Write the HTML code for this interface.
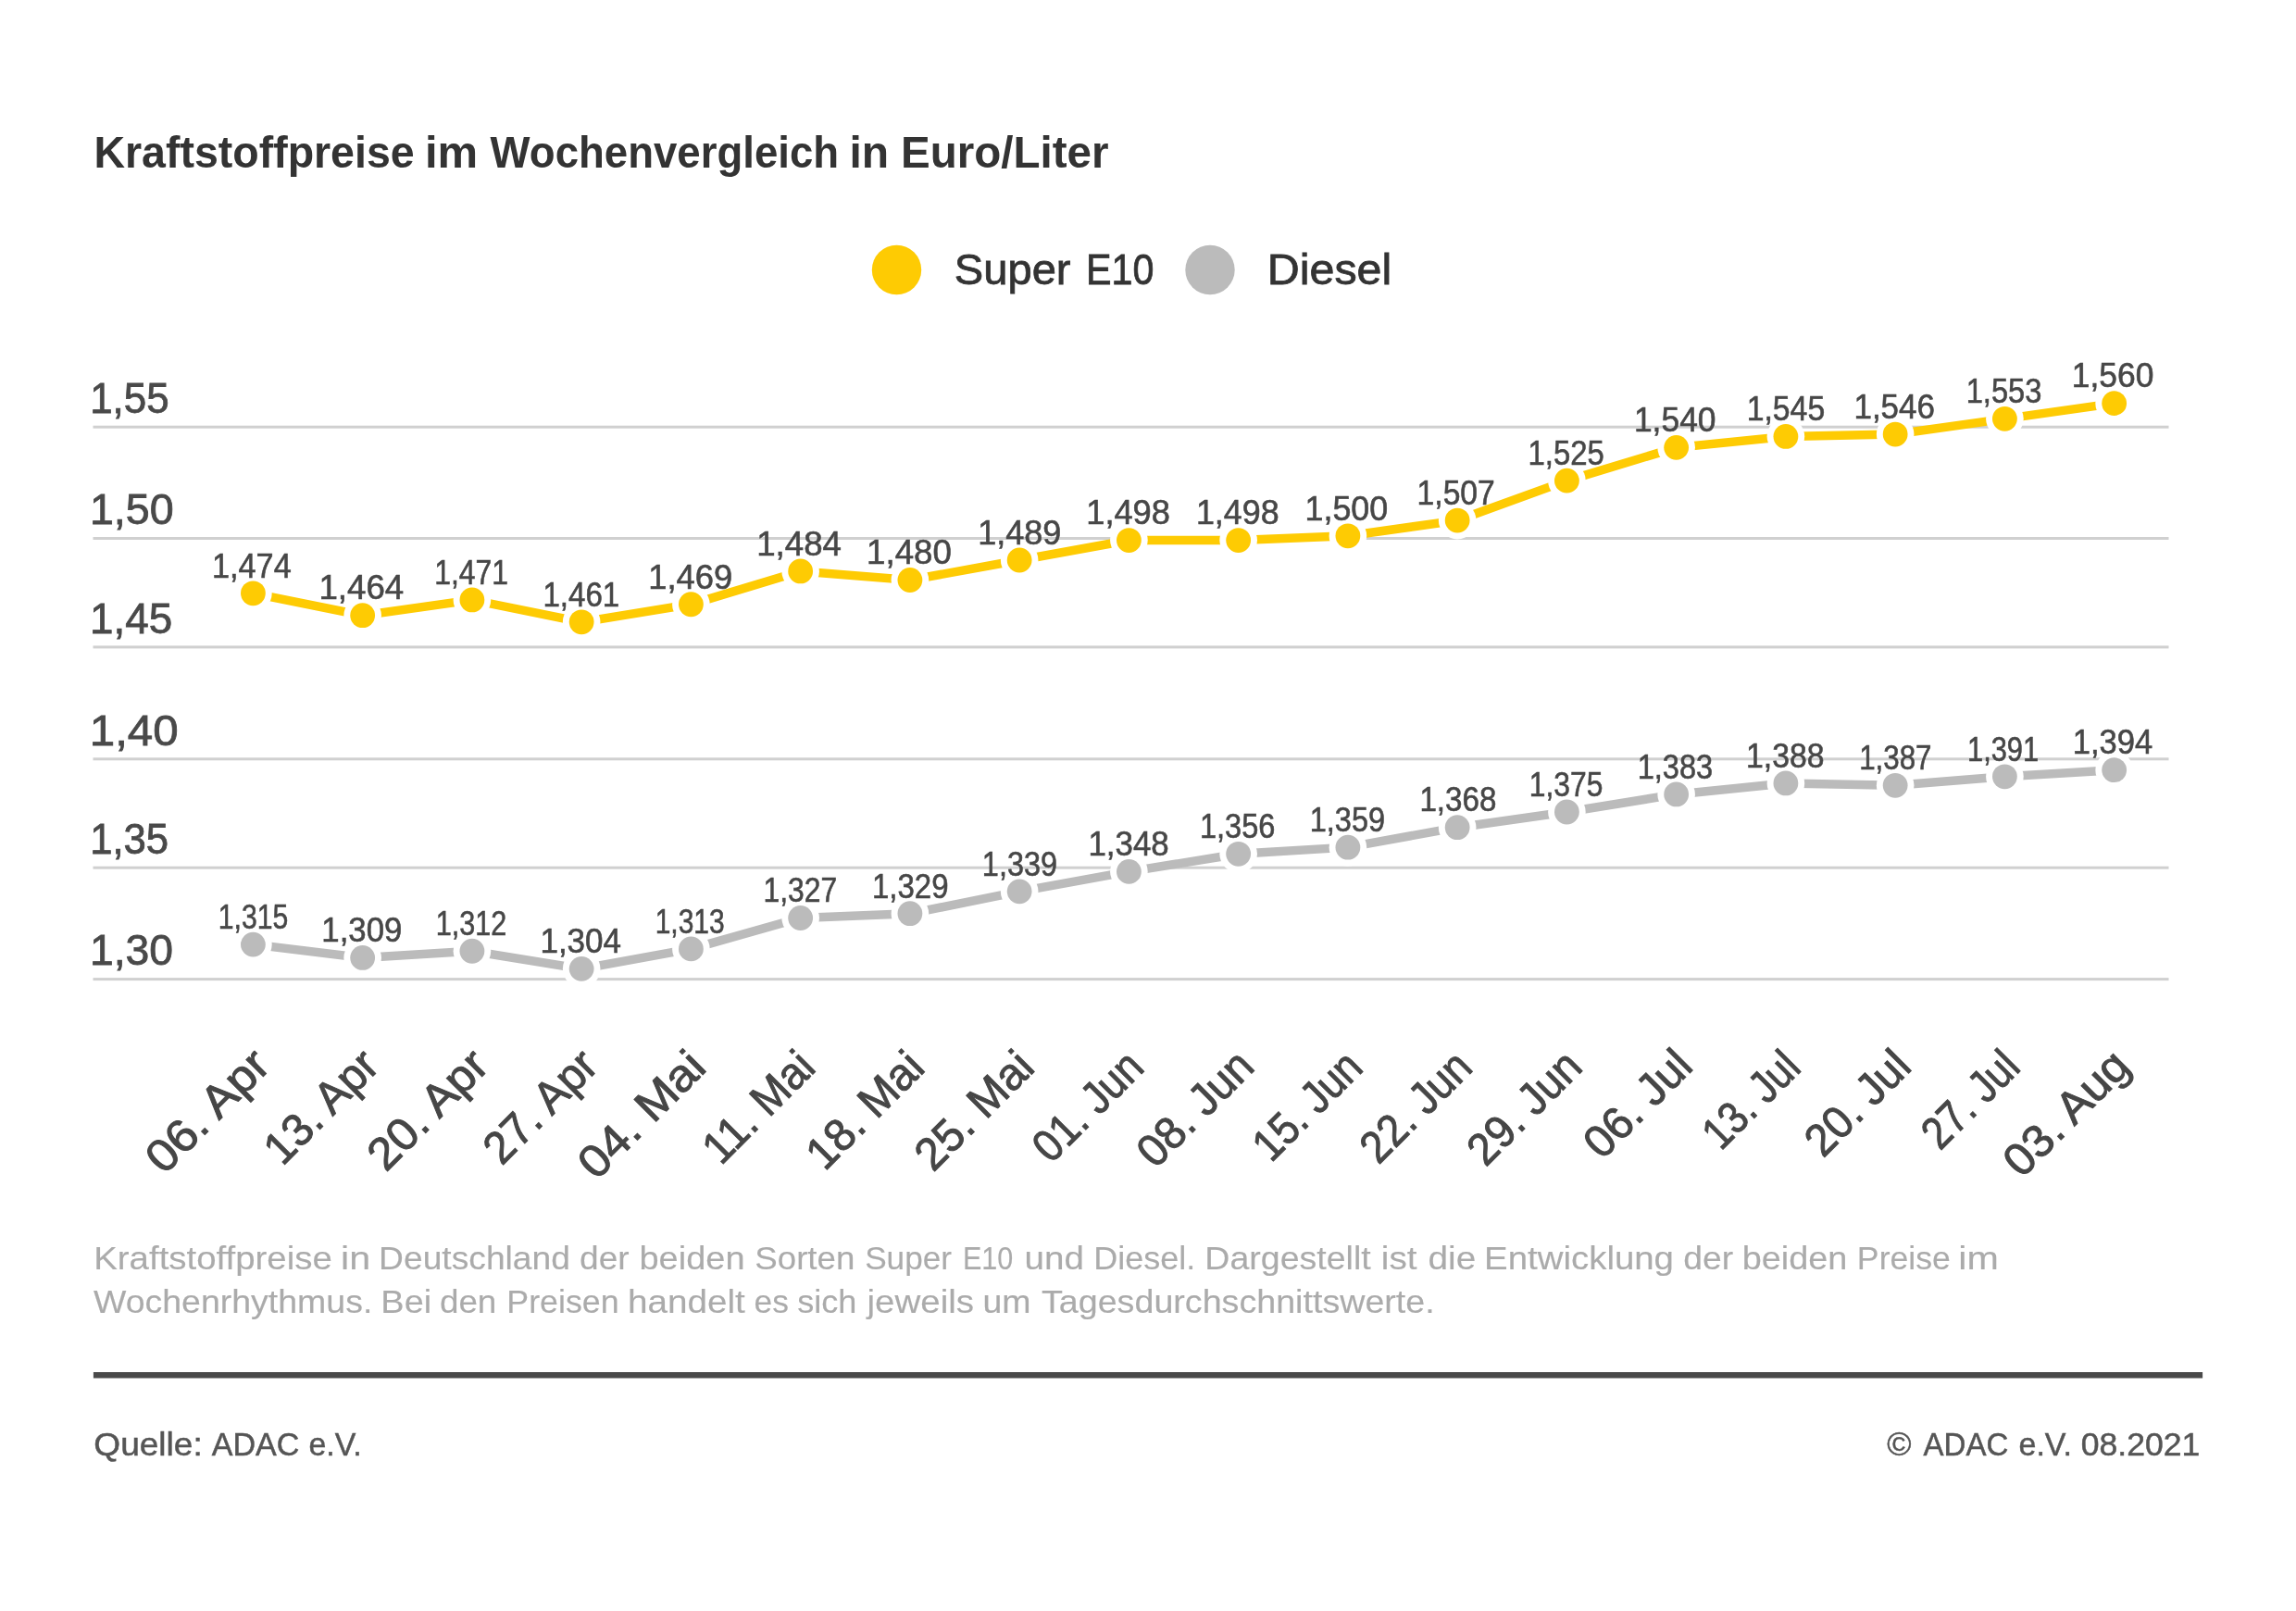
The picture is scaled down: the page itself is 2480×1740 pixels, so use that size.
<!DOCTYPE html><html><head><meta charset="utf-8"><style>html,body{margin:0;padding:0;background:#fff;overflow:hidden;}svg{display:block;will-change:transform;}text{font-family:"Liberation Sans",sans-serif;}</style></head><body>
<svg width="2480" height="1740" viewBox="0 0 2480 1740">
<rect width="2480" height="1740" fill="#fff"/>
<circle cx="968.5" cy="291.5" r="26.7" fill="#FECB03"/>
<circle cx="1307" cy="291.5" r="26.7" fill="#BBBBBB"/>
<rect x="100.5" y="459.70" width="2242" height="3" fill="#d0d0d0"/>
<rect x="100.5" y="580.00" width="2242" height="3" fill="#d0d0d0"/>
<rect x="100.5" y="697.40" width="2242" height="3" fill="#d0d0d0"/>
<rect x="100.5" y="818.30" width="2242" height="3" fill="#d0d0d0"/>
<rect x="100.5" y="935.70" width="2242" height="3" fill="#d0d0d0"/>
<rect x="100.5" y="1056.10" width="2242" height="3" fill="#d0d0d0"/>
<text x="97.16" y="445.50" font-size="45.5" fill="#494949" stroke="#494949" stroke-width="0.8" textLength="85.47" lengthAdjust="spacingAndGlyphs">1,55</text>
<text x="96.94" y="565.80" font-size="45.5" fill="#494949" stroke="#494949" stroke-width="0.8" textLength="90.73" lengthAdjust="spacingAndGlyphs">1,50</text>
<text x="97.01" y="683.50" font-size="45.5" fill="#494949" stroke="#494949" stroke-width="0.8" textLength="89.11" lengthAdjust="spacingAndGlyphs">1,45</text>
<text x="96.75" y="804.50" font-size="45.5" fill="#494949" stroke="#494949" stroke-width="0.8" textLength="95.94" lengthAdjust="spacingAndGlyphs">1,40</text>
<text x="97.19" y="921.80" font-size="45.5" fill="#494949" stroke="#494949" stroke-width="0.8" textLength="84.90" lengthAdjust="spacingAndGlyphs">1,35</text>
<text x="96.98" y="1041.50" font-size="45.5" fill="#494949" stroke="#494949" stroke-width="0.8" textLength="90.04" lengthAdjust="spacingAndGlyphs">1,30</text>
<polyline points="273.40,640.81 391.65,664.66 509.90,647.96 628.15,671.82 746.40,652.73 864.65,616.95 982.90,626.49 1101.15,605.02 1219.40,583.55 1337.65,583.55 1455.90,578.78 1574.15,562.08 1692.40,519.14 1810.65,483.36 1928.90,471.43 2047.15,469.04 2165.40,452.34 2283.65,435.64" fill="none" stroke="#FECB03" stroke-width="9.5" stroke-linejoin="miter"/>
<circle cx="273.40" cy="640.81" r="20.3" fill="#fff"/>
<circle cx="273.40" cy="640.81" r="13.4" fill="#FECB03"/>
<circle cx="391.65" cy="664.66" r="20.3" fill="#fff"/>
<circle cx="391.65" cy="664.66" r="13.4" fill="#FECB03"/>
<circle cx="509.90" cy="647.96" r="20.3" fill="#fff"/>
<circle cx="509.90" cy="647.96" r="13.4" fill="#FECB03"/>
<circle cx="628.15" cy="671.82" r="20.3" fill="#fff"/>
<circle cx="628.15" cy="671.82" r="13.4" fill="#FECB03"/>
<circle cx="746.40" cy="652.73" r="20.3" fill="#fff"/>
<circle cx="746.40" cy="652.73" r="13.4" fill="#FECB03"/>
<circle cx="864.65" cy="616.95" r="20.3" fill="#fff"/>
<circle cx="864.65" cy="616.95" r="13.4" fill="#FECB03"/>
<circle cx="982.90" cy="626.49" r="20.3" fill="#fff"/>
<circle cx="982.90" cy="626.49" r="13.4" fill="#FECB03"/>
<circle cx="1101.15" cy="605.02" r="20.3" fill="#fff"/>
<circle cx="1101.15" cy="605.02" r="13.4" fill="#FECB03"/>
<circle cx="1219.40" cy="583.55" r="20.3" fill="#fff"/>
<circle cx="1219.40" cy="583.55" r="13.4" fill="#FECB03"/>
<circle cx="1337.65" cy="583.55" r="20.3" fill="#fff"/>
<circle cx="1337.65" cy="583.55" r="13.4" fill="#FECB03"/>
<circle cx="1455.90" cy="578.78" r="20.3" fill="#fff"/>
<circle cx="1455.90" cy="578.78" r="13.4" fill="#FECB03"/>
<circle cx="1574.15" cy="562.08" r="20.3" fill="#fff"/>
<circle cx="1574.15" cy="562.08" r="13.4" fill="#FECB03"/>
<circle cx="1692.40" cy="519.14" r="20.3" fill="#fff"/>
<circle cx="1692.40" cy="519.14" r="13.4" fill="#FECB03"/>
<circle cx="1810.65" cy="483.36" r="20.3" fill="#fff"/>
<circle cx="1810.65" cy="483.36" r="13.4" fill="#FECB03"/>
<circle cx="1928.90" cy="471.43" r="20.3" fill="#fff"/>
<circle cx="1928.90" cy="471.43" r="13.4" fill="#FECB03"/>
<circle cx="2047.15" cy="469.04" r="20.3" fill="#fff"/>
<circle cx="2047.15" cy="469.04" r="13.4" fill="#FECB03"/>
<circle cx="2165.40" cy="452.34" r="20.3" fill="#fff"/>
<circle cx="2165.40" cy="452.34" r="13.4" fill="#FECB03"/>
<circle cx="2283.65" cy="435.64" r="20.3" fill="#fff"/>
<circle cx="2283.65" cy="435.64" r="13.4" fill="#FECB03"/>
<text x="271.83" y="623.61" font-size="36.3" fill="#474747" stroke="#474747" stroke-width="0.6" text-anchor="middle" textLength="85.74" lengthAdjust="spacingAndGlyphs">1,474</text>
<text x="390.32" y="647.46" font-size="36.3" fill="#474747" stroke="#474747" stroke-width="0.6" text-anchor="middle" textLength="91.74" lengthAdjust="spacingAndGlyphs">1,464</text>
<text x="509.11" y="630.76" font-size="36.3" fill="#474747" stroke="#474747" stroke-width="0.6" text-anchor="middle" textLength="79.83" lengthAdjust="spacingAndGlyphs">1,471</text>
<text x="627.80" y="654.62" font-size="36.3" fill="#474747" stroke="#474747" stroke-width="0.6" text-anchor="middle" textLength="82.77" lengthAdjust="spacingAndGlyphs">1,461</text>
<text x="745.69" y="635.53" font-size="36.3" fill="#474747" stroke="#474747" stroke-width="0.6" text-anchor="middle" textLength="90.95" lengthAdjust="spacingAndGlyphs">1,469</text>
<text x="863.12" y="599.75" font-size="36.3" fill="#474747" stroke="#474747" stroke-width="0.6" text-anchor="middle" textLength="91.75" lengthAdjust="spacingAndGlyphs">1,484</text>
<text x="981.97" y="609.29" font-size="36.3" fill="#474747" stroke="#474747" stroke-width="0.6" text-anchor="middle" textLength="91.76" lengthAdjust="spacingAndGlyphs">1,480</text>
<text x="1101.22" y="587.82" font-size="36.3" fill="#474747" stroke="#474747" stroke-width="0.6" text-anchor="middle" textLength="90.14" lengthAdjust="spacingAndGlyphs">1,489</text>
<text x="1218.59" y="566.35" font-size="36.3" fill="#474747" stroke="#474747" stroke-width="0.6" text-anchor="middle" textLength="90.74" lengthAdjust="spacingAndGlyphs">1,498</text>
<text x="1336.75" y="566.35" font-size="36.3" fill="#474747" stroke="#474747" stroke-width="0.6" text-anchor="middle" textLength="89.72" lengthAdjust="spacingAndGlyphs">1,498</text>
<text x="1454.39" y="561.58" font-size="36.3" fill="#474747" stroke="#474747" stroke-width="0.6" text-anchor="middle" textLength="89.72" lengthAdjust="spacingAndGlyphs">1,500</text>
<text x="1572.69" y="544.88" font-size="36.3" fill="#474747" stroke="#474747" stroke-width="0.6" text-anchor="middle" textLength="84.24" lengthAdjust="spacingAndGlyphs">1,507</text>
<text x="1691.65" y="501.94" font-size="36.3" fill="#474747" stroke="#474747" stroke-width="0.6" text-anchor="middle" textLength="82.34" lengthAdjust="spacingAndGlyphs">1,525</text>
<text x="1809.25" y="466.16" font-size="36.3" fill="#474747" stroke="#474747" stroke-width="0.6" text-anchor="middle" textLength="88.67" lengthAdjust="spacingAndGlyphs">1,540</text>
<text x="1928.93" y="454.23" font-size="36.3" fill="#474747" stroke="#474747" stroke-width="0.6" text-anchor="middle" textLength="84.52" lengthAdjust="spacingAndGlyphs">1,545</text>
<text x="2046.16" y="451.84" font-size="36.3" fill="#474747" stroke="#474747" stroke-width="0.6" text-anchor="middle" textLength="87.41" lengthAdjust="spacingAndGlyphs">1,546</text>
<text x="2164.53" y="435.14" font-size="36.3" fill="#474747" stroke="#474747" stroke-width="0.6" text-anchor="middle" textLength="81.72" lengthAdjust="spacingAndGlyphs">1,553</text>
<text x="2282.05" y="418.44" font-size="36.3" fill="#474747" stroke="#474747" stroke-width="0.6" text-anchor="middle" textLength="88.64" lengthAdjust="spacingAndGlyphs">1,560</text>
<polyline points="273.40,1020.12 391.65,1034.43 509.90,1027.27 628.15,1046.36 746.40,1024.89 864.65,991.49 982.90,986.72 1101.15,962.86 1219.40,941.39 1337.65,922.31 1455.90,915.15 1574.15,893.68 1692.40,876.98 1810.65,857.90 1928.90,845.97 2047.15,848.35 2165.40,838.81 2283.65,831.65" fill="none" stroke="#BBBBBB" stroke-width="9.5" stroke-linejoin="miter"/>
<circle cx="273.40" cy="1020.12" r="20.3" fill="#fff"/>
<circle cx="273.40" cy="1020.12" r="13.4" fill="#BBBBBB"/>
<circle cx="391.65" cy="1034.43" r="20.3" fill="#fff"/>
<circle cx="391.65" cy="1034.43" r="13.4" fill="#BBBBBB"/>
<circle cx="509.90" cy="1027.27" r="20.3" fill="#fff"/>
<circle cx="509.90" cy="1027.27" r="13.4" fill="#BBBBBB"/>
<circle cx="628.15" cy="1046.36" r="20.3" fill="#fff"/>
<circle cx="628.15" cy="1046.36" r="13.4" fill="#BBBBBB"/>
<circle cx="746.40" cy="1024.89" r="20.3" fill="#fff"/>
<circle cx="746.40" cy="1024.89" r="13.4" fill="#BBBBBB"/>
<circle cx="864.65" cy="991.49" r="20.3" fill="#fff"/>
<circle cx="864.65" cy="991.49" r="13.4" fill="#BBBBBB"/>
<circle cx="982.90" cy="986.72" r="20.3" fill="#fff"/>
<circle cx="982.90" cy="986.72" r="13.4" fill="#BBBBBB"/>
<circle cx="1101.15" cy="962.86" r="20.3" fill="#fff"/>
<circle cx="1101.15" cy="962.86" r="13.4" fill="#BBBBBB"/>
<circle cx="1219.40" cy="941.39" r="20.3" fill="#fff"/>
<circle cx="1219.40" cy="941.39" r="13.4" fill="#BBBBBB"/>
<circle cx="1337.65" cy="922.31" r="20.3" fill="#fff"/>
<circle cx="1337.65" cy="922.31" r="13.4" fill="#BBBBBB"/>
<circle cx="1455.90" cy="915.15" r="20.3" fill="#fff"/>
<circle cx="1455.90" cy="915.15" r="13.4" fill="#BBBBBB"/>
<circle cx="1574.15" cy="893.68" r="20.3" fill="#fff"/>
<circle cx="1574.15" cy="893.68" r="13.4" fill="#BBBBBB"/>
<circle cx="1692.40" cy="876.98" r="20.3" fill="#fff"/>
<circle cx="1692.40" cy="876.98" r="13.4" fill="#BBBBBB"/>
<circle cx="1810.65" cy="857.90" r="20.3" fill="#fff"/>
<circle cx="1810.65" cy="857.90" r="13.4" fill="#BBBBBB"/>
<circle cx="1928.90" cy="845.97" r="20.3" fill="#fff"/>
<circle cx="1928.90" cy="845.97" r="13.4" fill="#BBBBBB"/>
<circle cx="2047.15" cy="848.35" r="20.3" fill="#fff"/>
<circle cx="2047.15" cy="848.35" r="13.4" fill="#BBBBBB"/>
<circle cx="2165.40" cy="838.81" r="20.3" fill="#fff"/>
<circle cx="2165.40" cy="838.81" r="13.4" fill="#BBBBBB"/>
<circle cx="2283.65" cy="831.65" r="20.3" fill="#fff"/>
<circle cx="2283.65" cy="831.65" r="13.4" fill="#BBBBBB"/>
<text x="273.58" y="1002.92" font-size="36.3" fill="#474747" stroke="#474747" stroke-width="0.6" text-anchor="middle" textLength="75.46" lengthAdjust="spacingAndGlyphs">1,315</text>
<text x="390.85" y="1017.23" font-size="36.3" fill="#474747" stroke="#474747" stroke-width="0.6" text-anchor="middle" textLength="86.96" lengthAdjust="spacingAndGlyphs">1,309</text>
<text x="508.92" y="1010.07" font-size="36.3" fill="#474747" stroke="#474747" stroke-width="0.6" text-anchor="middle" textLength="76.48" lengthAdjust="spacingAndGlyphs">1,312</text>
<text x="627.25" y="1029.16" font-size="36.3" fill="#474747" stroke="#474747" stroke-width="0.6" text-anchor="middle" textLength="87.63" lengthAdjust="spacingAndGlyphs">1,304</text>
<text x="745.20" y="1007.69" font-size="36.3" fill="#474747" stroke="#474747" stroke-width="0.6" text-anchor="middle" textLength="74.99" lengthAdjust="spacingAndGlyphs">1,313</text>
<text x="864.38" y="974.29" font-size="36.3" fill="#474747" stroke="#474747" stroke-width="0.6" text-anchor="middle" textLength="79.63" lengthAdjust="spacingAndGlyphs">1,327</text>
<text x="983.22" y="969.52" font-size="36.3" fill="#474747" stroke="#474747" stroke-width="0.6" text-anchor="middle" textLength="82.59" lengthAdjust="spacingAndGlyphs">1,329</text>
<text x="1101.42" y="945.66" font-size="36.3" fill="#474747" stroke="#474747" stroke-width="0.6" text-anchor="middle" textLength="81.10" lengthAdjust="spacingAndGlyphs">1,339</text>
<text x="1219.10" y="924.19" font-size="36.3" fill="#474747" stroke="#474747" stroke-width="0.6" text-anchor="middle" textLength="87.17" lengthAdjust="spacingAndGlyphs">1,348</text>
<text x="1336.68" y="905.11" font-size="36.3" fill="#474747" stroke="#474747" stroke-width="0.6" text-anchor="middle" textLength="81.51" lengthAdjust="spacingAndGlyphs">1,356</text>
<text x="1455.41" y="897.95" font-size="36.3" fill="#474747" stroke="#474747" stroke-width="0.6" text-anchor="middle" textLength="81.30" lengthAdjust="spacingAndGlyphs">1,359</text>
<text x="1574.90" y="876.48" font-size="36.3" fill="#474747" stroke="#474747" stroke-width="0.6" text-anchor="middle" textLength="82.97" lengthAdjust="spacingAndGlyphs">1,368</text>
<text x="1691.56" y="859.78" font-size="36.3" fill="#474747" stroke="#474747" stroke-width="0.6" text-anchor="middle" textLength="79.62" lengthAdjust="spacingAndGlyphs">1,375</text>
<text x="1809.48" y="840.70" font-size="36.3" fill="#474747" stroke="#474747" stroke-width="0.6" text-anchor="middle" textLength="81.54" lengthAdjust="spacingAndGlyphs">1,383</text>
<text x="1928.33" y="828.77" font-size="36.3" fill="#474747" stroke="#474747" stroke-width="0.6" text-anchor="middle" textLength="84.49" lengthAdjust="spacingAndGlyphs">1,388</text>
<text x="2047.34" y="831.15" font-size="36.3" fill="#474747" stroke="#474747" stroke-width="0.6" text-anchor="middle" textLength="78.37" lengthAdjust="spacingAndGlyphs">1,387</text>
<text x="2163.57" y="821.61" font-size="36.3" fill="#474747" stroke="#474747" stroke-width="0.6" text-anchor="middle" textLength="77.09" lengthAdjust="spacingAndGlyphs">1,391</text>
<text x="2281.96" y="814.45" font-size="36.3" fill="#474747" stroke="#474747" stroke-width="0.6" text-anchor="middle" textLength="86.38" lengthAdjust="spacingAndGlyphs">1,394</text>
<text x="0" y="0" font-size="49" fill="#464646" stroke="#464646" stroke-width="1.0" text-anchor="end" textLength="165.13" lengthAdjust="spacingAndGlyphs" transform="translate(293.90,1153.10) rotate(-45)">06. Apr</text>
<text x="0" y="0" font-size="49" fill="#464646" stroke="#464646" stroke-width="1.0" text-anchor="end" textLength="150.74" lengthAdjust="spacingAndGlyphs" transform="translate(411.65,1153.60) rotate(-45)">13. Apr</text>
<text x="0" y="0" font-size="49" fill="#464646" stroke="#464646" stroke-width="1.0" text-anchor="end" textLength="160.49" lengthAdjust="spacingAndGlyphs" transform="translate(530.15,1153.35) rotate(-45)">20. Apr</text>
<text x="0" y="0" font-size="49" fill="#464646" stroke="#464646" stroke-width="1.0" text-anchor="end" textLength="150.09" lengthAdjust="spacingAndGlyphs" transform="translate(648.16,1153.59) rotate(-45)">27. Apr</text>
<text x="0" y="0" font-size="49" fill="#464646" stroke="#464646" stroke-width="1.0" text-anchor="end" textLength="170.82" lengthAdjust="spacingAndGlyphs" transform="translate(764.99,1155.01) rotate(-45)">04. Mai</text>
<text x="0" y="0" font-size="49" fill="#464646" stroke="#464646" stroke-width="1.0" text-anchor="end" textLength="147.42" lengthAdjust="spacingAndGlyphs" transform="translate(882.99,1155.26) rotate(-45)">11. Mai</text>
<text x="0" y="0" font-size="49" fill="#464646" stroke="#464646" stroke-width="1.0" text-anchor="end" textLength="155.55" lengthAdjust="spacingAndGlyphs" transform="translate(1000.85,1155.65) rotate(-45)">18. Mai</text>
<text x="0" y="0" font-size="49" fill="#464646" stroke="#464646" stroke-width="1.0" text-anchor="end" textLength="157.78" lengthAdjust="spacingAndGlyphs" transform="translate(1119.62,1155.13) rotate(-45)">25. Mai</text>
<text x="0" y="0" font-size="49" fill="#464646" stroke="#464646" stroke-width="1.0" text-anchor="end" textLength="144.81" lengthAdjust="spacingAndGlyphs" transform="translate(1237.76,1155.24) rotate(-45)">01. Jun</text>
<text x="0" y="0" font-size="49" fill="#464646" stroke="#464646" stroke-width="1.0" text-anchor="end" textLength="154.22" lengthAdjust="spacingAndGlyphs" transform="translate(1357.09,1154.16) rotate(-45)">08. Jun</text>
<text x="0" y="0" font-size="49" fill="#464646" stroke="#464646" stroke-width="1.0" text-anchor="end" textLength="143.12" lengthAdjust="spacingAndGlyphs" transform="translate(1474.22,1155.28) rotate(-45)">15. Jun</text>
<text x="0" y="0" font-size="49" fill="#464646" stroke="#464646" stroke-width="1.0" text-anchor="end" textLength="146.19" lengthAdjust="spacingAndGlyphs" transform="translate(1592.49,1155.26) rotate(-45)">22. Jun</text>
<text x="0" y="0" font-size="49" fill="#464646" stroke="#464646" stroke-width="1.0" text-anchor="end" textLength="150.55" lengthAdjust="spacingAndGlyphs" transform="translate(1711.31,1154.69) rotate(-45)">29. Jun</text>
<text x="0" y="0" font-size="49" fill="#464646" stroke="#464646" stroke-width="1.0" text-anchor="end" textLength="141.47" lengthAdjust="spacingAndGlyphs" transform="translate(1830.62,1153.63) rotate(-45)">06. Jul</text>
<text x="0" y="0" font-size="49" fill="#464646" stroke="#464646" stroke-width="1.0" text-anchor="end" textLength="125.22" lengthAdjust="spacingAndGlyphs" transform="translate(1947.18,1155.32) rotate(-45)">13. Jul</text>
<text x="0" y="0" font-size="49" fill="#464646" stroke="#464646" stroke-width="1.0" text-anchor="end" textLength="137.81" lengthAdjust="spacingAndGlyphs" transform="translate(2066.57,1154.18) rotate(-45)">20. Jul</text>
<text x="0" y="0" font-size="49" fill="#464646" stroke="#464646" stroke-width="1.0" text-anchor="end" textLength="125.41" lengthAdjust="spacingAndGlyphs" transform="translate(2184.22,1154.78) rotate(-45)">27. Jul</text>
<text x="0" y="0" font-size="49" fill="#464646" stroke="#464646" stroke-width="1.0" text-anchor="end" textLength="168.92" lengthAdjust="spacingAndGlyphs" transform="translate(2303.15,1154.10) rotate(-45)">03. Aug</text>
<rect x="100.9" y="1482" width="2278.2" height="6.5" fill="#4a4a4a"/>
<text x="101.44" y="181.20" font-size="49" font-weight="bold" fill="#333333" textLength="346.18" lengthAdjust="spacingAndGlyphs">Kraftstoffpreise</text>
<text x="458.92" y="181.20" font-size="49" font-weight="bold" fill="#333333" textLength="57.24" lengthAdjust="spacingAndGlyphs">im</text>
<text x="529.61" y="181.20" font-size="49" font-weight="bold" fill="#333333" textLength="376.53" lengthAdjust="spacingAndGlyphs">Wochenvergleich</text>
<text x="917.41" y="181.20" font-size="49" font-weight="bold" fill="#333333" textLength="42.69" lengthAdjust="spacingAndGlyphs">in</text>
<text x="973.04" y="181.20" font-size="49" font-weight="bold" fill="#333333" textLength="224.38" lengthAdjust="spacingAndGlyphs">Euro/Liter</text>
<text x="1030.83" y="307.40" font-size="47" fill="#333333" stroke="#333333" stroke-width="0.8" textLength="125.70" lengthAdjust="spacingAndGlyphs">Super</text>
<text x="1172.93" y="307.40" font-size="47" fill="#333333" stroke="#333333" stroke-width="0.8" textLength="73.42" lengthAdjust="spacingAndGlyphs">E10</text>
<text x="1368.73" y="307.40" font-size="47" fill="#333333" stroke="#333333" stroke-width="0.8" textLength="134.58" lengthAdjust="spacingAndGlyphs">Diesel</text>
<text x="101.18" y="1371.00" font-size="35.4" fill="#ababab" stroke="#ababab" stroke-width="0.15" textLength="257.67" lengthAdjust="spacingAndGlyphs">Kraftstoffpreise</text>
<text x="368.04" y="1371.00" font-size="35.4" fill="#ababab" stroke="#ababab" stroke-width="0.15" textLength="32.09" lengthAdjust="spacingAndGlyphs">in</text>
<text x="409.14" y="1371.00" font-size="35.4" fill="#ababab" stroke="#ababab" stroke-width="0.15" textLength="206.83" lengthAdjust="spacingAndGlyphs">Deutschland</text>
<text x="626.14" y="1371.00" font-size="35.4" fill="#ababab" stroke="#ababab" stroke-width="0.15" textLength="53.55" lengthAdjust="spacingAndGlyphs">der</text>
<text x="690.51" y="1371.00" font-size="35.4" fill="#ababab" stroke="#ababab" stroke-width="0.15" textLength="114.07" lengthAdjust="spacingAndGlyphs">beiden</text>
<text x="815.34" y="1371.00" font-size="35.4" fill="#ababab" stroke="#ababab" stroke-width="0.15" textLength="108.00" lengthAdjust="spacingAndGlyphs">Sorten</text>
<text x="934.15" y="1371.00" font-size="35.4" fill="#ababab" stroke="#ababab" stroke-width="0.15" textLength="93.91" lengthAdjust="spacingAndGlyphs">Super</text>
<text x="1039.88" y="1371.00" font-size="35.4" fill="#ababab" stroke="#ababab" stroke-width="0.15" textLength="54.36" lengthAdjust="spacingAndGlyphs">E10</text>
<text x="1106.60" y="1371.00" font-size="35.4" fill="#ababab" stroke="#ababab" stroke-width="0.15" textLength="64.42" lengthAdjust="spacingAndGlyphs">und</text>
<text x="1181.28" y="1371.00" font-size="35.4" fill="#ababab" stroke="#ababab" stroke-width="0.15" textLength="110.08" lengthAdjust="spacingAndGlyphs">Diesel.</text>
<text x="1301.39" y="1371.00" font-size="35.4" fill="#ababab" stroke="#ababab" stroke-width="0.15" textLength="179.28" lengthAdjust="spacingAndGlyphs">Dargestellt</text>
<text x="1491.83" y="1371.00" font-size="35.4" fill="#ababab" stroke="#ababab" stroke-width="0.15" textLength="38.74" lengthAdjust="spacingAndGlyphs">ist</text>
<text x="1542.53" y="1371.00" font-size="35.4" fill="#ababab" stroke="#ababab" stroke-width="0.15" textLength="51.74" lengthAdjust="spacingAndGlyphs">die</text>
<text x="1603.14" y="1371.00" font-size="35.4" fill="#ababab" stroke="#ababab" stroke-width="0.15" textLength="204.83" lengthAdjust="spacingAndGlyphs">Entwicklung</text>
<text x="1818.17" y="1371.00" font-size="35.4" fill="#ababab" stroke="#ababab" stroke-width="0.15" textLength="53.91" lengthAdjust="spacingAndGlyphs">der</text>
<text x="1881.70" y="1371.00" font-size="35.4" fill="#ababab" stroke="#ababab" stroke-width="0.15" textLength="113.68" lengthAdjust="spacingAndGlyphs">beiden</text>
<text x="2005.89" y="1371.00" font-size="35.4" fill="#ababab" stroke="#ababab" stroke-width="0.15" textLength="100.97" lengthAdjust="spacingAndGlyphs">Preise</text>
<text x="2115.31" y="1371.00" font-size="35.4" fill="#ababab" stroke="#ababab" stroke-width="0.15" textLength="43.49" lengthAdjust="spacingAndGlyphs">im</text>
<text x="101.00" y="1418.00" font-size="35.4" fill="#ababab" stroke="#ababab" stroke-width="0.15" textLength="301.31" lengthAdjust="spacingAndGlyphs">Wochenrhythmus.</text>
<text x="411.36" y="1418.00" font-size="35.4" fill="#ababab" stroke="#ababab" stroke-width="0.15" textLength="54.77" lengthAdjust="spacingAndGlyphs">Bei</text>
<text x="474.92" y="1418.00" font-size="35.4" fill="#ababab" stroke="#ababab" stroke-width="0.15" textLength="61.43" lengthAdjust="spacingAndGlyphs">den</text>
<text x="547.29" y="1418.00" font-size="35.4" fill="#ababab" stroke="#ababab" stroke-width="0.15" textLength="121.29" lengthAdjust="spacingAndGlyphs">Preisen</text>
<text x="677.95" y="1418.00" font-size="35.4" fill="#ababab" stroke="#ababab" stroke-width="0.15" textLength="126.88" lengthAdjust="spacingAndGlyphs">handelt</text>
<text x="814.47" y="1418.00" font-size="35.4" fill="#ababab" stroke="#ababab" stroke-width="0.15" textLength="37.42" lengthAdjust="spacingAndGlyphs">es</text>
<text x="861.15" y="1418.00" font-size="35.4" fill="#ababab" stroke="#ababab" stroke-width="0.15" textLength="64.20" lengthAdjust="spacingAndGlyphs">sich</text>
<text x="936.41" y="1418.00" font-size="35.4" fill="#ababab" stroke="#ababab" stroke-width="0.15" textLength="115.63" lengthAdjust="spacingAndGlyphs">jeweils</text>
<text x="1061.44" y="1418.00" font-size="35.4" fill="#ababab" stroke="#ababab" stroke-width="0.15" textLength="52.09" lengthAdjust="spacingAndGlyphs">um</text>
<text x="1125.00" y="1418.00" font-size="35.4" fill="#ababab" stroke="#ababab" stroke-width="0.15" textLength="424.73" lengthAdjust="spacingAndGlyphs">Tagesdurchschnittswerte.</text>
<text x="101.32" y="1572.20" font-size="35.2" fill="#555555" stroke="#555555" stroke-width="0.5" textLength="117.44" lengthAdjust="spacingAndGlyphs">Quelle:</text>
<text x="228.78" y="1572.20" font-size="35.2" fill="#555555" stroke="#555555" stroke-width="0.5" textLength="94.57" lengthAdjust="spacingAndGlyphs">ADAC</text>
<text x="333.50" y="1572.20" font-size="35.2" fill="#555555" stroke="#555555" stroke-width="0.5" textLength="57.17" lengthAdjust="spacingAndGlyphs">e.V.</text>
<text x="2038.18" y="1572.20" font-size="35.2" fill="#555555" stroke="#555555" stroke-width="0.5" textLength="26.22" lengthAdjust="spacingAndGlyphs">©</text>
<text x="2077.57" y="1572.20" font-size="35.2" fill="#555555" stroke="#555555" stroke-width="0.5" textLength="91.78" lengthAdjust="spacingAndGlyphs">ADAC</text>
<text x="2180.50" y="1572.20" font-size="35.2" fill="#555555" stroke="#555555" stroke-width="0.5" textLength="57.37" lengthAdjust="spacingAndGlyphs">e.V.</text>
<text x="2247.77" y="1572.20" font-size="35.2" fill="#555555" stroke="#555555" stroke-width="0.5" textLength="128.54" lengthAdjust="spacingAndGlyphs">08.2021</text>
</svg></body></html>
